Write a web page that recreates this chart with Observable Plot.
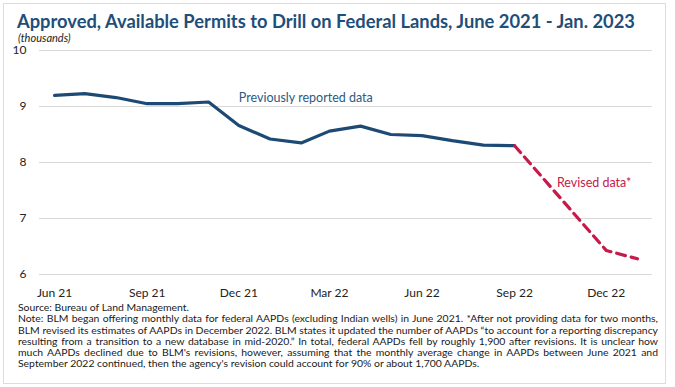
<!DOCTYPE html>
<html>
<head>
<meta charset="utf-8">
<script src="https://cdn.jsdelivr.net/npm/d3@7"></script>
<script src="https://cdn.jsdelivr.net/npm/@observablehq/plot@0.6"></script>
<style>
  html, body { margin: 0; padding: 0; background: #fff; }
  body { width: 675px; height: 387px; position: relative; overflow: hidden; font-family: Lato, "Open Sans", sans-serif; }
  #frame { position: absolute; left: 3px; top: 3px; width: 663px; height: 381px; border: 1px solid #dcdcdc; box-sizing: border-box; }
  #title { position: absolute; left: 17px; top: 9px; white-space: nowrap; font-weight: 700; font-size: 19px; color: #1f4e79; transform-origin: 0 0; }
  #sub { position: absolute; left: 18px; top: 33px; font-style: italic; font-size: 11px; line-height: 10px; color: #222; }
  #chart { position: absolute; left: 0; top: 44px; }
  #chart svg { overflow: visible; }
  #notes { position: absolute; left: 18px; top: 302px; width: 640px; font-size: 10px; line-height: 11.3px; color: #1a1a1a; }
  #notes div { white-space: nowrap; transform-origin: 0 0; }
</style>
</head>
<body>
<div id="frame"></div>
<div id="title">Approved, Available Permits to Drill on Federal Lands, June 2021 - Jan. 2023</div>
<div id="sub">(thousands)</div>
<div id="chart"></div>
<div id="notes">
  <div>Source: Bureau of Land Management.</div>
  <div class="j">Note: BLM began offering monthly data for federal AAPDs (excluding Indian wells) in June 2021. *After not providing data for two months,</div>
  <div class="j">BLM revised its estimates of AAPDs in December 2022. BLM states it updated the number of AAPDs “to account for a reporting discrepancy</div>
  <div class="j">resulting from a transition to a new database in mid-2020.” In total, federal AAPDs fell by roughly 1,900 after revisions. It is unclear how</div>
  <div class="j">much AAPDs declined due to BLM's revisions, however, assuming that the monthly average change in AAPDs between June 2021 and</div>
  <div>September 2022 continued, then the agency's revision could account for 90% or about 1,700 AAPDs.</div>
</div>
<script>
// ---- data ----
const months = ["2021-06","2021-07","2021-08","2021-09","2021-10","2021-11","2021-12",
                "2022-01","2022-02","2022-03","2022-04","2022-05","2022-06","2022-07",
                "2022-08","2022-09","2022-10","2022-11","2022-12","2023-01"];
const previous = [9.20, 9.23, 9.16, 9.05, 9.05, 9.08, 8.66,
                  8.42, 8.35, 8.56, 8.65, 8.50, 8.48, 8.39,
                  8.31, 8.30, null, null, null, null];
const revised  = [null, null, null, null, null, null, null,
                  null, null, null, null, null, null, null,
                  null, 8.30, null, null, 6.43, 6.28];
const xTickLabels = ["2021-06","2021-09","2021-12","2022-03","2022-06","2022-09","2022-12"];
const yTicks = [6, 7, 8, 9, 10];
const seriesLabels = [
  {text: "Previously reported data", month: "2021-12", value: 9.16, series: "previous"},
  {text: "Revised data*", month: "2022-10-13", value: 7.64, series: "revised"}
];

const parse = s => s.length > 7 ? d3.utcParse("%Y-%m-%d")(s) : d3.utcParse("%Y-%m")(s);
const prevData = months.map((m, i) => ({date: parse(m), value: previous[i]})).filter(d => d.value != null);
const revData = months.map((m, i) => ({date: parse(m), value: revised[i]})).filter(d => d.value != null);
const labelData = seriesLabels.map(d => ({...d, date: parse(d.month)}));
const colors = {previous: "#2c5a80", revised: "#c51a4a"};

const chart = Plot.plot({
  width: 675,
  height: 262,
  marginLeft: 39,
  marginRight: 23,
  marginTop: 6,
  marginBottom: 32,
  style: {fontFamily: "Lato, 'Open Sans', sans-serif", fontSize: "12px", color: "#222", background: "transparent"},
  x: {type: "utc", domain: [new Date(Date.UTC(2021, 4, 17)), new Date(Date.UTC(2023, 0, 16))]},
  y: {domain: [6, 10]},
  marks: [
    Plot.ruleY(yTicks, {stroke: "#d9d9d9", strokeWidth: 1}),
    Plot.axisY({ticks: yTicks, tickFormat: d => String(d), tickSize: 0, tickPadding: 13, fontSize: 12, label: null}),
    Plot.axisX({ticks: xTickLabels.map(parse), tickFormat: d3.utcFormat("%b %y"), tickSize: 0, tickPadding: 14, fontSize: 12, label: null}),
    Plot.line(prevData, {x: "date", y: "value", stroke: "#1d4a74", strokeWidth: 3.2}),
    Plot.line(revData, {x: "date", y: "value", stroke: "#c51a4a", strokeWidth: 3.2, strokeDasharray: "9,6"}),
    Plot.text(labelData, {x: "date", y: "value", text: "text", textAnchor: "start", fontSize: 12.5,
      fill: d => colors[d.series]})
  ]
});
document.getElementById("chart").appendChild(chart);

// fit text widths to the reference layout
const title = document.getElementById("title");
const tw = title.getBoundingClientRect().width;
title.style.transform = `scaleX(${618 / tw})`;

const lines = Array.from(document.querySelectorAll("#notes div"));
const widths = lines.map(el => {
  el.style.display = "inline-block";
  const w = el.getBoundingClientRect().width;
  el.style.display = "block";
  return w;
});
const jw = lines.map((el, i) => el.classList.contains("j") ? widths[i] : 0);
const k = 640 / Math.max(...jw);
lines.forEach((el, i) => {
  el.style.transform = `scaleX(${k})`;
  if (el.classList.contains("j")) {
    const spaces = (el.textContent.match(/ /g) || []).length;
    const extra = (640 / k - widths[i]) / spaces;
    el.style.wordSpacing = extra + "px";
  }
});
</script>
</body>
</html>
